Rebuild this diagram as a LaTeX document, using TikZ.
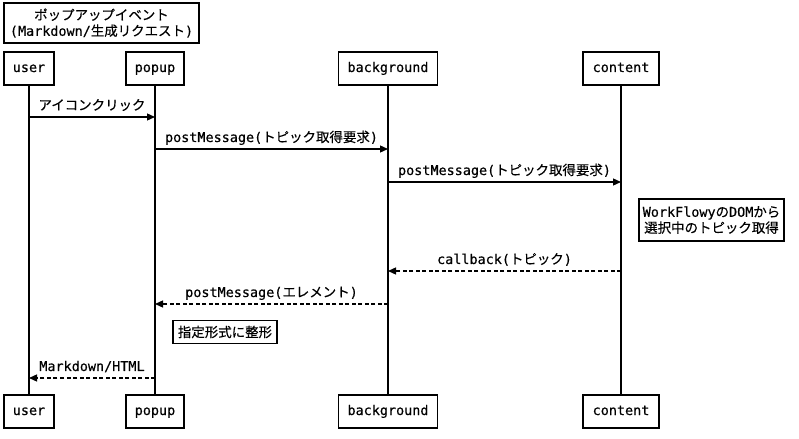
\documentclass[tikz,border=0pt]{standalone}
\usepackage{fontspec}
\setmainfont{DejaVu Sans Mono}[UprightFeatures={FakeBold=0.35}]
\newfontfamily\jpfont{Noto Sans CJK JP}[UprightFeatures={FakeBold=0.35}]
\newcommand{\jp}[1]{{\jpfont #1}}
\usetikzlibrary{arrows.meta}

\tikzset{
  box/.style={draw, line width=1.6pt, inner sep=0pt, align=center, fill=white},
  actor/.style={box, minimum height=33bp, text height=9.5bp, text depth=2.5bp},
  life/.style={line width=1.6pt},
  msg/.style={line width=1.3pt, -{Triangle[length=8bp,width=7bp]}},
  reply/.style={msg, dash pattern=on 4bp off 2.5bp},
  lbl/.style={anchor=base, inner sep=0pt, yshift=7bp},
}

\begin{document}
\begin{tikzpicture}[x=1bp, y=-1bp, font=\fontsize{13.5}{16}\selectfont]
    \useasboundingbox (0,0) rectangle (799,439);
    \fill[white] (0,0) rectangle (799,439);

    % title
    \node[box, minimum width=195bp, minimum height=40bp] (title) at (101.5,23)
        {\jp{ポップアップイベント}\\(Markdown/\jp{生成リクエスト})};

    % actors
    \node[actor, minimum width=50bp] (user-top) at (29,68.5) {user};
    \node[actor, minimum width=58bp] (popup-top) at (155,68.5) {popup};
    \node[actor, minimum width=99bp] (bg-top) at (388,68.5) {background};
    \node[actor, minimum width=76bp] (content-top) at (621,68.5) {content};

    \node[actor, minimum width=50bp] (user-bot) at (29,411.5) {user};
    \node[actor, minimum width=58bp] (popup-bot) at (155,411.5) {popup};
    \node[actor, minimum width=99bp] (bg-bot) at (388,411.5) {background};
    \node[actor, minimum width=76bp] (content-bot) at (621,411.5) {content};

    % lifelines
    \draw[life] (user-top.south) -- (user-bot.north);
    \draw[life] (popup-top.south) -- (popup-bot.north);
    \draw[life] (bg-top.south) -- (bg-bot.north);
    \draw[life] (content-top.south) -- (content-bot.north);

    % message ends
    \coordinate (u1) at (29,117);
    \coordinate (p1) at (155,117);
    \coordinate (p2) at (155,149);
    \coordinate (b2) at (388,149);
    \coordinate (b3) at (388,182);
    \coordinate (c3) at (621,182);
    \coordinate (c4) at (621,271);
    \coordinate (b4) at (388,271);
    \coordinate (b5) at (388,304);
    \coordinate (p5) at (155,304);
    \coordinate (p6) at (155,378);
    \coordinate (u6) at (29,378);

    % messages
    \draw[msg] (u1) -- (p1) node[midway, lbl] {\jp{アイコンクリック}};
    \draw[msg] (p2) -- (b2) node[midway, lbl] {postMessage(\jp{トピック取得要求})};
    \draw[msg] (b3) -- (c3) node[midway, lbl] {postMessage(\jp{トピック取得要求})};
    \draw[reply] (c4) -- (b4) node[midway, lbl] {callback(\jp{トピック})};
    \draw[reply] (b5) -- (p5) node[midway, lbl] {postMessage(\jp{エレメント})};
    \draw[reply] (p6) -- (u6) node[midway, lbl] {Markdown/HTML};

    % notes
    \node[box, minimum width=145bp, minimum height=42bp] (dom-note) at (711.5,220)
        {WorkFlowy\jp{の}DOM\jp{から}\\\jp{選択中のトピック取得}};
    \node[box, minimum width=104bp, minimum height=23bp] (fmt-note) at (225,332)
        {\jp{指定形式に整形}};
\end{tikzpicture}
\end{document}
